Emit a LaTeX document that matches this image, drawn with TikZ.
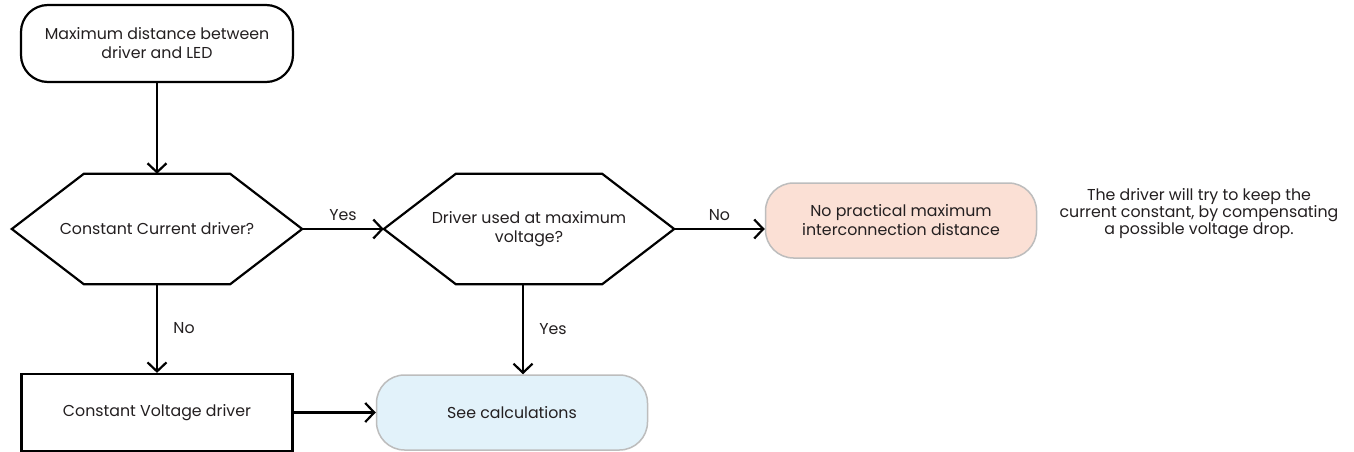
\documentclass[tikz,border=0pt]{standalone}
\usepackage{fontspec}
\setmainfont{Poppins}
\usetikzlibrary{arrows.meta,backgrounds}

\definecolor{txtgray}{HTML}{231F20}
\definecolor{edgegray}{HTML}{BDBDBD}
\definecolor{pinkfill}{HTML}{FBE0D5}
\definecolor{bluefill}{HTML}{E2F2FA}

\begin{document}
\begin{tikzpicture}[x=1pt, y=1pt, node distance=100pt,
    every node/.style={font=\fontsize{15.8}{19}\selectfont, text=txtgray},
    startbox/.style={rectangle, rounded corners=27pt, draw, line width=2.2pt, minimum width=272pt, minimum height=77pt, align=center},
    decision/.style={rectangle, minimum width=290pt, minimum height=110pt, inner sep=0pt, align=center},
    hexline/.style={line width=2.2pt},
    procbox/.style={rectangle, draw, line width=2.2pt, minimum width=271pt, minimum height=77pt, align=center},
    endbox/.style={rectangle, rounded corners=28pt, draw=edgegray, line width=1.5pt, minimum width=271pt, minimum height=75pt, align=center},
    arr/.style={-{Straight Barb[length=9pt,width=19pt]}, line width=2.2pt}]
    % white background
    \useasboundingbox (0,0) rectangle (1354,-452);
    \begin{scope}[on background layer]
        \fill [white] (0,0) rectangle (1354,-452);
    \end{scope}
    % nodes
    \node (start) [startbox] at (157,-43.5) {Maximum distance between\\driver and LED};
    \node (ccq) [decision, below of=start, node distance=185.5pt] {Constant Current driver?};
    \node (maxv) [decision, right of=ccq, node distance=372pt] {Driver used at maximum\\voltage?};
    \node (nomax) [endbox, fill=pinkfill, right of=maxv, node distance=372pt, yshift=8.5pt] {No practical maximum\\interconnection distance};
    \node (note) [right of=nomax, node distance=298pt, yshift=7pt, align=center, font=\fontsize{15.8}{17}\selectfont] {The driver will try to keep the\\current constant, by compensating\\a possible voltage drop.};
    \node (cv) [procbox, below of=ccq, node distance=183.5pt] {Constant Voltage driver};
    \node (calc) [endbox, fill=bluefill, right of=cv, node distance=355pt] {See calculations};
    % hexagon outlines
    \foreach \n in {ccq,maxv}
        \draw[hexline] (\n.west) -- ([xshift=72pt]\n.north west) -- ([xshift=-72pt]\n.north east)
            -- (\n.east) -- ([xshift=-72pt]\n.south east) -- ([xshift=72pt]\n.south west) -- cycle;
    % arrows
    \draw[arr] (start) -- (ccq);
    \draw[arr] (ccq.east) -- (maxv.west) node[midway, above=4pt] {Yes};
    \draw[arr] (maxv.east) -- (maxv.east -| nomax.west) node[midway, above=4pt] {No};
    \draw[arr] (ccq.south) -- (cv.north) node[midway, right=12pt] {No};
    \draw[arr] ([xshift=-6pt]maxv.south) -- ([xshift=-6pt]maxv.south |- calc.north) node[midway, right=12pt] {Yes};
    \draw[arr] (cv.east) -- (calc.west);
\end{tikzpicture}
\end{document}
